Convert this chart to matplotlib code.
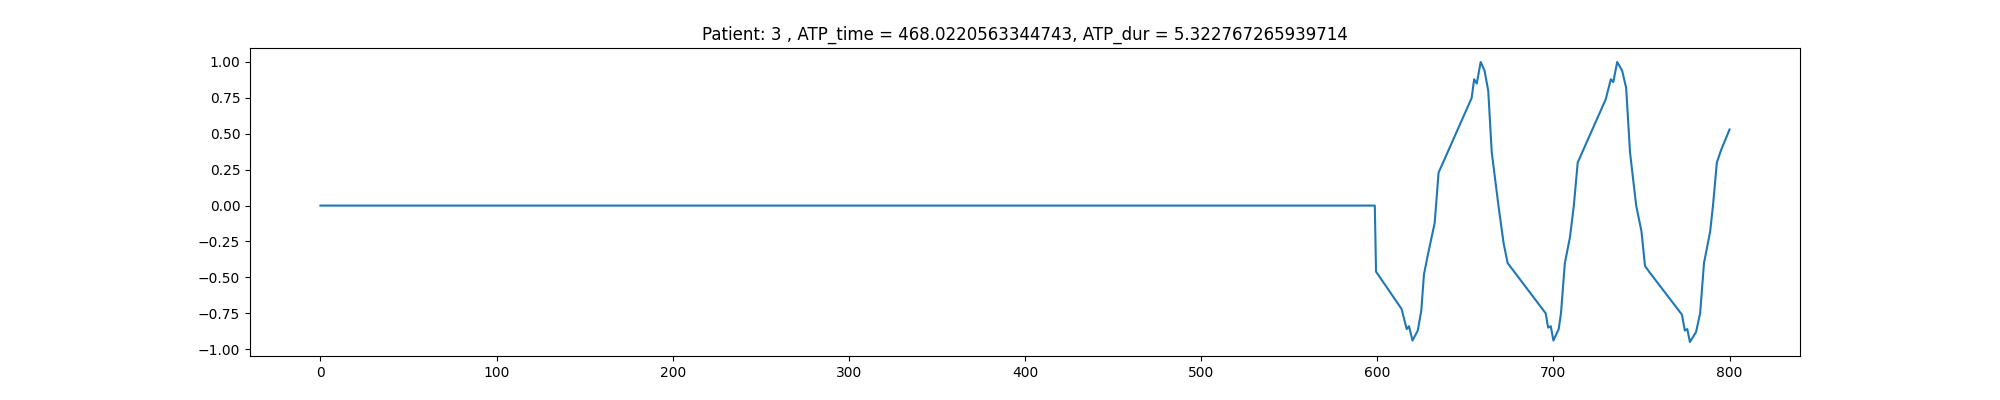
import numpy as np
import matplotlib
matplotlib.use("Agg")
import matplotlib.pyplot as plt

# waveform samples (flat before t ~ 598)
t = [0, 598.6, 599.3, 613.8, 616.7, 618, 620, 623, 625, 626.5, 628.6, 632.6, 634.8, 637,
     653.6, 655, 656.5, 658.7, 660.9, 663, 665, 668.8, 671.7, 674,
     695.6, 697, 698.5, 700, 703, 704.3, 706.5, 709.4, 711.6, 713.8,
     729.7, 732.6, 734, 736.2, 739, 741.3, 743.5, 747, 750, 752, 754.3,
     773, 774.6, 776, 777.5, 781, 783.3, 785.5, 789, 790.6, 792.8, 795, 800]
signal = [0, 0, -0.46, -0.72, -0.86, -0.84, -0.94, -0.87, -0.73, -0.48, -0.35, -0.12, 0.23, 0.29,
          0.75, 0.88, 0.85, 1.0, 0.94, 0.80, 0.37, 0.0, -0.26, -0.40,
          -0.75, -0.85, -0.84, -0.94, -0.86, -0.75, -0.40, -0.22, 0.0, 0.30,
          0.74, 0.88, 0.86, 1.0, 0.94, 0.82, 0.37, 0.0, -0.18, -0.42, -0.46,
          -0.76, -0.87, -0.86, -0.95, -0.88, -0.75, -0.40, -0.18, 0.0, 0.30, 0.38, 0.53]

patient = 3
atp_time = 468.0220563344743
atp_dur = 5.322767265939714

fig, ax = plt.subplots(figsize=(20, 4), dpi=100)
ax.plot(t, signal)
ax.set_title("Patient: {} , ATP_time = {}, ATP_dur = {}".format(patient, atp_time, atp_dur))
fig.savefig("out.png")
